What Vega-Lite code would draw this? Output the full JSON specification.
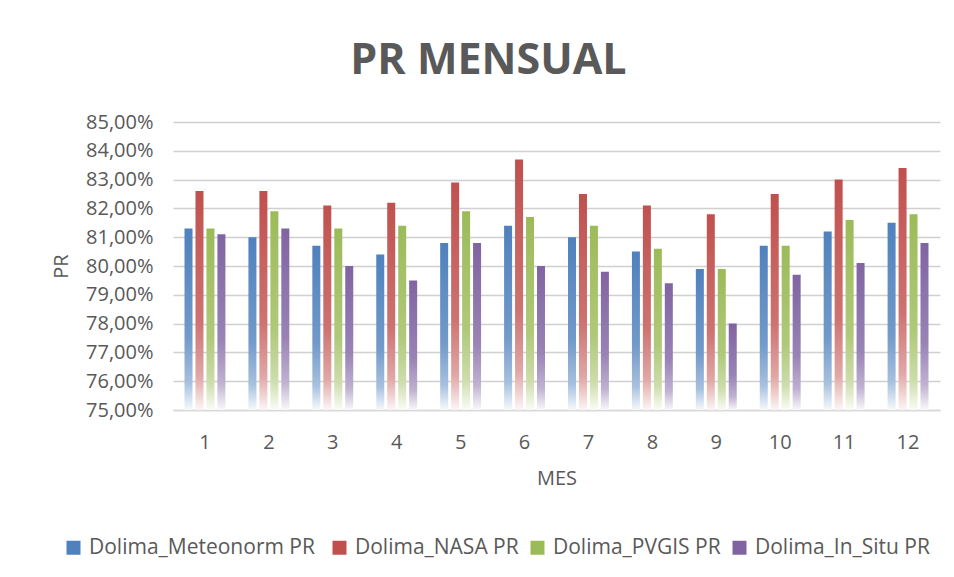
{
  "$schema": "https://vega.github.io/schema/vega-lite/v6.json",
  "width": 767,
  "height": 288,
  "autosize": {"type": "none"},
  "padding": {"left": 173, "top": 122, "right": 14, "bottom": 167},
  "background": "white",
  "params": [
    {
      "name": "grads",
      "value": {
        "Dolima_Meteonorm  PR": {"gradient": "linear", "x1": 0, "y1": 0, "x2": 0, "y2": 1, "stops": [
          {"offset": 0, "color": "#4F81BD"}, {"offset": 0.6, "color": "#729ACA"}, {"offset": 0.85, "color": "#A7C0DE"}, {"offset": 1, "color": "#F6F9FC"}]},
        "Dolima_NASA PR": {"gradient": "linear", "x1": 0, "y1": 0, "x2": 0, "y2": 1, "stops": [
          {"offset": 0, "color": "#C0504D"}, {"offset": 0.6, "color": "#CD7371"}, {"offset": 0.85, "color": "#E0A8A6"}, {"offset": 1, "color": "#FCF6F6"}]},
        "Dolima_PVGIS PR": {"gradient": "linear", "x1": 0, "y1": 0, "x2": 0, "y2": 1, "stops": [
          {"offset": 0, "color": "#9BBB59"}, {"offset": 0.6, "color": "#AFC97A"}, {"offset": 0.85, "color": "#CDDDAC"}, {"offset": 1, "color": "#FAFCF6"}]},
        "Dolima_In_Situ  PR": {"gradient": "linear", "x1": 0, "y1": 0, "x2": 0, "y2": 1, "stops": [
          {"offset": 0, "color": "#8064A2"}, {"offset": 0.6, "color": "#9983B5"}, {"offset": 0.85, "color": "#C0B2D1"}, {"offset": 1, "color": "#F9F8FA"}]}
      }
    }
  ],
  "title": {
    "text": "PR MENSUAL",
    "font": "Open Sans",
    "fontSize": 43,
    "fontWeight": "bold",
    "color": "#595959",
    "anchor": "middle",
    "frame": "group",
    "dx": -68,
    "baseline": "alphabetic",
    "offset": -5
  },
  "data": {
    "values": [
      {"mes": 1, "serie": "Dolima_Meteonorm  PR", "pr": 0.813},
      {"mes": 1, "serie": "Dolima_NASA PR", "pr": 0.826},
      {"mes": 1, "serie": "Dolima_PVGIS PR", "pr": 0.813},
      {"mes": 1, "serie": "Dolima_In_Situ  PR", "pr": 0.811},
      {"mes": 2, "serie": "Dolima_Meteonorm  PR", "pr": 0.810},
      {"mes": 2, "serie": "Dolima_NASA PR", "pr": 0.826},
      {"mes": 2, "serie": "Dolima_PVGIS PR", "pr": 0.819},
      {"mes": 2, "serie": "Dolima_In_Situ  PR", "pr": 0.813},
      {"mes": 3, "serie": "Dolima_Meteonorm  PR", "pr": 0.807},
      {"mes": 3, "serie": "Dolima_NASA PR", "pr": 0.821},
      {"mes": 3, "serie": "Dolima_PVGIS PR", "pr": 0.813},
      {"mes": 3, "serie": "Dolima_In_Situ  PR", "pr": 0.800},
      {"mes": 4, "serie": "Dolima_Meteonorm  PR", "pr": 0.804},
      {"mes": 4, "serie": "Dolima_NASA PR", "pr": 0.822},
      {"mes": 4, "serie": "Dolima_PVGIS PR", "pr": 0.814},
      {"mes": 4, "serie": "Dolima_In_Situ  PR", "pr": 0.795},
      {"mes": 5, "serie": "Dolima_Meteonorm  PR", "pr": 0.808},
      {"mes": 5, "serie": "Dolima_NASA PR", "pr": 0.829},
      {"mes": 5, "serie": "Dolima_PVGIS PR", "pr": 0.819},
      {"mes": 5, "serie": "Dolima_In_Situ  PR", "pr": 0.808},
      {"mes": 6, "serie": "Dolima_Meteonorm  PR", "pr": 0.814},
      {"mes": 6, "serie": "Dolima_NASA PR", "pr": 0.837},
      {"mes": 6, "serie": "Dolima_PVGIS PR", "pr": 0.817},
      {"mes": 6, "serie": "Dolima_In_Situ  PR", "pr": 0.800},
      {"mes": 7, "serie": "Dolima_Meteonorm  PR", "pr": 0.810},
      {"mes": 7, "serie": "Dolima_NASA PR", "pr": 0.825},
      {"mes": 7, "serie": "Dolima_PVGIS PR", "pr": 0.814},
      {"mes": 7, "serie": "Dolima_In_Situ  PR", "pr": 0.798},
      {"mes": 8, "serie": "Dolima_Meteonorm  PR", "pr": 0.805},
      {"mes": 8, "serie": "Dolima_NASA PR", "pr": 0.821},
      {"mes": 8, "serie": "Dolima_PVGIS PR", "pr": 0.806},
      {"mes": 8, "serie": "Dolima_In_Situ  PR", "pr": 0.794},
      {"mes": 9, "serie": "Dolima_Meteonorm  PR", "pr": 0.799},
      {"mes": 9, "serie": "Dolima_NASA PR", "pr": 0.818},
      {"mes": 9, "serie": "Dolima_PVGIS PR", "pr": 0.799},
      {"mes": 9, "serie": "Dolima_In_Situ  PR", "pr": 0.780},
      {"mes": 10, "serie": "Dolima_Meteonorm  PR", "pr": 0.807},
      {"mes": 10, "serie": "Dolima_NASA PR", "pr": 0.825},
      {"mes": 10, "serie": "Dolima_PVGIS PR", "pr": 0.807},
      {"mes": 10, "serie": "Dolima_In_Situ  PR", "pr": 0.797},
      {"mes": 11, "serie": "Dolima_Meteonorm  PR", "pr": 0.812},
      {"mes": 11, "serie": "Dolima_NASA PR", "pr": 0.830},
      {"mes": 11, "serie": "Dolima_PVGIS PR", "pr": 0.816},
      {"mes": 11, "serie": "Dolima_In_Situ  PR", "pr": 0.801},
      {"mes": 12, "serie": "Dolima_Meteonorm  PR", "pr": 0.815},
      {"mes": 12, "serie": "Dolima_NASA PR", "pr": 0.834},
      {"mes": 12, "serie": "Dolima_PVGIS PR", "pr": 0.818},
      {"mes": 12, "serie": "Dolima_In_Situ  PR", "pr": 0.808}
    ]
  },
  "encoding": {
    "x": {
      "field": "mes",
      "type": "ordinal",
      "scale": {"paddingInner": 0.36, "paddingOuter": 0.18},
      "axis": {
        "title": "MES",
        "labelAngle": 0,
        "labelFont": "Open Sans",
        "labelFontSize": 20,
        "labelColor": "#595959",
        "labelPadding": 22,
        "ticks": false,
        "tickSize": 0,
        "domainColor": "#D9D9D9",
        "domainWidth": 1.5,
        "titleFont": "Open Sans",
        "titleFontSize": 20,
        "titleFontWeight": "normal",
        "titleColor": "#595959",
        "titlePadding": 16
      }
    },
    "xOffset": {
      "field": "serie",
      "type": "nominal",
      "sort": ["Dolima_Meteonorm  PR", "Dolima_NASA PR", "Dolima_PVGIS PR", "Dolima_In_Situ  PR"],
      "scale": {"paddingInner": 0.27, "paddingOuter": 0}
    },
    "y": {
      "field": "pr",
      "type": "quantitative",
      "scale": {"domain": [0.75, 0.85], "zero": false, "nice": false},
      "axis": {
        "title": "PR",
        "values": [0.75, 0.76, 0.77, 0.78, 0.79, 0.8, 0.81, 0.82, 0.83, 0.84, 0.85],
        "labelExpr": "replace(format(datum.value, '.2%'), '.', ',')",
        "labelFont": "Open Sans",
        "labelFontSize": 20,
        "labelColor": "#595959",
        "labelPadding": 20,
        "ticks": false,
        "tickSize": 0,
        "domain": false,
        "grid": true,
        "gridWidth": 1.5,
        "gridColor": "#D0D0D0",
        "encoding": {
          "grid": {
            "update": {
              "stroke": {"signal": "'rgb(' + round(240 - (datum.value - 0.76) * 530) + ',' + round(240 - (datum.value - 0.76) * 530) + ',' + round(240 - (datum.value - 0.76) * 530) + ')'"}
            }
          }
        },
        "titleFont": "Open Sans",
        "titleFontSize": 20,
        "titleFontWeight": "normal",
        "titleColor": "#595959",
        "titlePadding": 14
      }
    },
    "y2": {"datum": 0.75}
  },
  "layer": [
    {
      "mark": {"type": "bar", "opacity": 0},
      "encoding": {
        "color": {
          "field": "serie",
          "type": "nominal",
          "scale": {
            "domain": ["Dolima_Meteonorm  PR", "Dolima_NASA PR", "Dolima_PVGIS PR", "Dolima_In_Situ  PR"],
            "range": ["#4F81BD", "#C0504D", "#9BBB59", "#8064A2"]
          },
          "legend": {
            "title": null,
            "orient": "none",
            "direction": "horizontal",
            "legendX": -110,
            "legendY": 415,
            "symbolType": "square",
            "symbolSize": 196,
            "symbolStrokeWidth": 0,
            "symbolOpacity": 1,
            "labelFont": "Open Sans",
            "labelFontSize": 21,
            "labelColor": "#595959",
            "labelOffset": 5,
            "labelLimit": 400,
            "columnPadding": 8,
            "encoding": {
              "symbols": {
                "update": {
                  "fill": {"signal": "grads[datum.value]"},
                  "opacity": {"value": 1}
                }
              }
            }
          }
        }
      }
    },
    {
      "mark": {"type": "bar", "fill": {"expr": "grads[datum.serie]"}}
    }
  ],
  "config": {
    "view": {"stroke": null},
    "font": "Open Sans"
  }
}
